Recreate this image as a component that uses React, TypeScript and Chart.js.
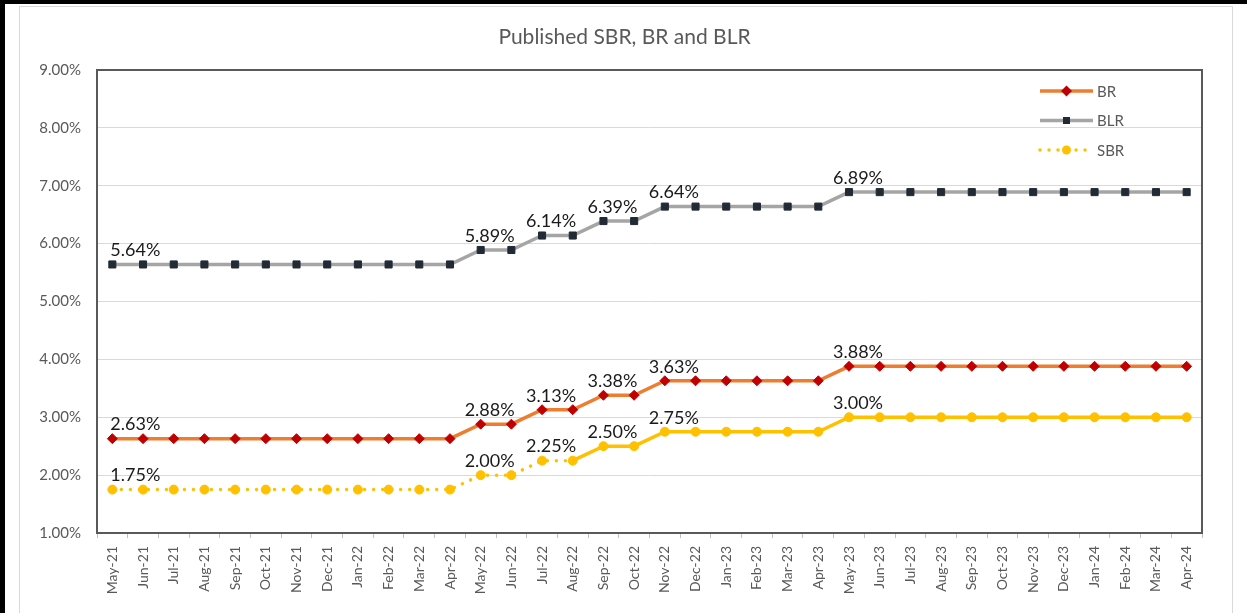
import { useEffect, useRef } from "react";
import { Chart, registerables } from "chart.js";

Chart.register(...registerables);

const categories = [
  "May-21", "Jun-21", "Jul-21", "Aug-21", "Sep-21", "Oct-21", "Nov-21", "Dec-21",
  "Jan-22", "Feb-22", "Mar-22", "Apr-22", "May-22", "Jun-22", "Jul-22", "Aug-22",
  "Sep-22", "Oct-22", "Nov-22", "Dec-22", "Jan-23", "Feb-23", "Mar-23", "Apr-23",
  "May-23", "Jun-23", "Jul-23", "Aug-23", "Sep-23", "Oct-23", "Nov-23", "Dec-23",
  "Jan-24", "Feb-24", "Mar-24", "Apr-24",
];

const blrValues = [
  5.64, 5.64, 5.64, 5.64, 5.64, 5.64, 5.64, 5.64, 5.64, 5.64, 5.64, 5.64,
  5.89, 5.89, 6.14, 6.14, 6.39, 6.39, 6.64, 6.64, 6.64, 6.64, 6.64, 6.64,
  6.89, 6.89, 6.89, 6.89, 6.89, 6.89, 6.89, 6.89, 6.89, 6.89, 6.89, 6.89,
];

const brValues = [
  2.63, 2.63, 2.63, 2.63, 2.63, 2.63, 2.63, 2.63, 2.63, 2.63, 2.63, 2.63,
  2.88, 2.88, 3.13, 3.13, 3.38, 3.38, 3.63, 3.63, 3.63, 3.63, 3.63, 3.63,
  3.88, 3.88, 3.88, 3.88, 3.88, 3.88, 3.88, 3.88, 3.88, 3.88, 3.88, 3.88,
];

const sbrValues = [
  1.75, 1.75, 1.75, 1.75, 1.75, 1.75, 1.75, 1.75, 1.75, 1.75, 1.75, 1.75,
  2.0, 2.0, 2.25, 2.25, 2.5, 2.5, 2.75, 2.75, 2.75, 2.75, 2.75, 2.75,
  3.0, 3.0, 3.0, 3.0, 3.0, 3.0, 3.0, 3.0, 3.0, 3.0, 3.0, 3.0,
];

const labelledIndices = [0, 12, 14, 16, 18, 24];
const sbrLastDottedIndex = 15;

const yMin = 1;
const yMax = 9;
const yStep = 1;

const titleText = "Published SBR, BR and BLR";
const FONT = "Lato, 'Open Sans', sans-serif";

const legendItems = [
  { label: "BR", color: "#ED7D31", marker: "#C00000", style: "diamond", dash: [] as number[] },
  { label: "BLR", color: "#A5A5A5", marker: "#222A35", style: "square", dash: [] as number[] },
  { label: "SBR", color: "#FFC000", marker: "#FFC000", style: "circle", dash: [0.01, 9] },
];

function drawMarker(ctx: CanvasRenderingContext2D, style: string, x: number, y: number) {
  ctx.beginPath();
  if (style === "diamond") {
    const r = 5.5;
    ctx.moveTo(x - r, y);
    ctx.lineTo(x, y - r);
    ctx.lineTo(x + r, y);
    ctx.lineTo(x, y + r);
    ctx.closePath();
  } else if (style === "square") {
    ctx.rect(x - 3.5, y - 3.5, 7, 7);
  } else {
    ctx.arc(x, y, 4.5, 0, Math.PI * 2);
  }
  ctx.fill();
}

const decorPlugin = {
  id: "decor",
  beforeDatasetsDraw(chart: any) {
    const { ctx, chartArea: a } = chart;
    ctx.save();
    ctx.strokeStyle = "#595959";
    ctx.lineWidth = 2;
    ctx.strokeRect(a.left, a.top, a.right - a.left, a.bottom - a.top);
    ctx.restore();
  },
  afterDatasetsDraw(chart: any) {
    const { ctx, chartArea: a } = chart;
    ctx.save();
    // title
    ctx.fillStyle = "#595959";
    ctx.font = `21px ${FONT}`;
    ctx.textAlign = "center";
    ctx.textBaseline = "middle";
    ctx.fillText(titleText, chart.width / 2 + 1, 37);

    // data labels
    ctx.fillStyle = "#1a1a1a";
    ctx.font = `18px ${FONT}`;
    chart.data.datasets.forEach((ds: any, di: number) => {
      const meta = chart.getDatasetMeta(di);
      labelledIndices.forEach((idx) => {
        const pt = meta.data[idx];
        const v = ds.data[idx];
        const txt = `${v.toFixed(2)}%`;
        if (idx === 0) {
          ctx.textAlign = "left";
          ctx.fillText(txt, pt.x - 2, pt.y - 14);
        } else {
          ctx.textAlign = "center";
          ctx.fillText(txt, pt.x + 9, pt.y - 14);
        }
      });
    });

    // legend
    const x0 = a.right - 162;
    const x1 = a.right - 109;
    legendItems.forEach((it, i) => {
      const y = a.top + 21 + i * 29.5;
      ctx.save();
      ctx.strokeStyle = it.color;
      ctx.lineWidth = 3.5;
      ctx.lineCap = it.dash.length ? "round" : "butt";
      ctx.setLineDash(it.dash);
      ctx.beginPath();
      ctx.moveTo(x0, y);
      ctx.lineTo(x1, y);
      ctx.stroke();
      ctx.restore();
      ctx.save();
      ctx.fillStyle = it.marker;
      drawMarker(ctx, it.style, (x0 + x1) / 2, y);
      ctx.restore();
      ctx.fillStyle = "#595959";
      ctx.font = `15px ${FONT}`;
      ctx.textAlign = "left";
      ctx.textBaseline = "middle";
      ctx.fillText(it.label, x1 + 4, y + 1);
    });
    ctx.restore();
  },
};

export default function App() {
  const canvasRef = useRef<HTMLCanvasElement | null>(null);

  useEffect(() => {
    document.body.style.margin = "0";
    const canvas = canvasRef.current;
    if (!canvas) return;
    const chart = new Chart(canvas, {
      type: "line",
      data: {
        labels: categories,
        datasets: [
          {
            label: "BLR",
            data: blrValues,
            borderColor: "#A5A5A5",
            borderWidth: 3.5,
            pointStyle: "rect",
            pointRadius: 5,
            pointBackgroundColor: "#222A35",
            pointBorderColor: "#222A35",
            pointBorderWidth: 1,
            tension: 0,
          },
          {
            label: "BR",
            data: brValues,
            borderColor: "#ED7D31",
            borderWidth: 3.5,
            pointStyle: "rectRot",
            pointRadius: 5,
            pointBackgroundColor: "#C00000",
            pointBorderColor: "#C00000",
            pointBorderWidth: 1,
            tension: 0,
          },
          {
            label: "SBR",
            data: sbrValues,
            borderColor: "#FFC000",
            borderWidth: 3.5,
            borderCapStyle: "round",
            pointStyle: "circle",
            pointRadius: 4.5,
            pointBackgroundColor: "#FFC000",
            pointBorderColor: "#FFC000",
            pointBorderWidth: 1,
            tension: 0,
            segment: {
              borderDash: (c: any) => (c.p1DataIndex <= sbrLastDottedIndex ? [0.01, 9] : undefined),
            },
          } as any,
        ],
      },
      options: {
        responsive: false,
        animation: false,
        layout: { padding: { top: 70, right: 45, bottom: 0, left: 0 } },
        plugins: {
          legend: { display: false },
          title: { display: false },
          tooltip: { enabled: false },
        },
        scales: {
          x: {
            offset: true,
            afterFit: (s: any) => {
              s.height = 80;
            },
            grid: {
              display: true,
              offset: true,
              drawOnChartArea: false,
              drawTicks: true,
              tickLength: 5,
              color: "#BFBFBF",
            },
            border: { display: false },
            ticks: {
              autoSkip: false,
              minRotation: 90,
              maxRotation: 90,
              padding: 8,
              color: "#595959",
              font: { family: FONT, size: 14 },
            },
          },
          y: {
            min: yMin,
            max: yMax,
            afterFit: (s: any) => {
              s.width = 97;
            },
            grid: { color: "#D9D9D9", lineWidth: 1, drawTicks: false },
            border: { display: false },
            ticks: {
              stepSize: yStep,
              padding: 16,
              color: "#595959",
              font: { family: FONT, size: 15 },
              callback: (v: any) => `${Number(v).toFixed(2)}%`,
            },
          },
        },
      },
      plugins: [decorPlugin],
    });
    return () => chart.destroy();
  }, []);

  return (
    <div style={{ position: "fixed", left: 0, top: 0, width: 1247, height: 613, background: "#000", overflow: "hidden" }}>
      <div style={{ position: "absolute", left: 5, top: 4, right: 0, bottom: 0, background: "#fff" }} />
      <div style={{ position: "absolute", left: 19, top: 6, width: 1212, height: 700, border: "1px solid #D9D9D9" }} />
      <canvas ref={canvasRef} width={1247} height={613} style={{ position: "absolute", left: 0, top: 0 }} />
    </div>
  );
}
